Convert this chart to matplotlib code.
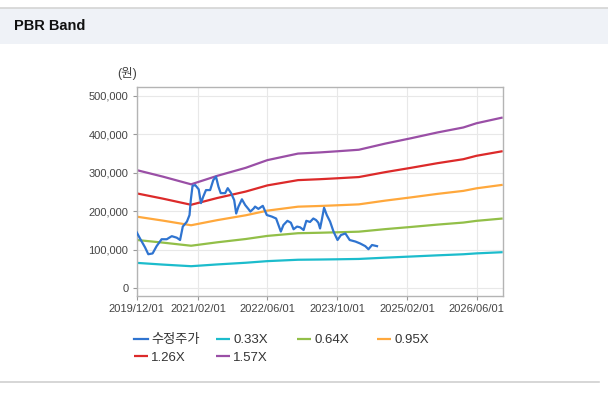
import pandas as pd
import matplotlib
matplotlib.use("Agg")
import matplotlib.pyplot as plt
import matplotlib.dates as mdates
from matplotlib.patches import Rectangle
from matplotlib.lines import Line2D
from matplotlib.ticker import FuncFormatter

plt.rcParams["font.family"] = ["Liberation Sans", "Noto Sans CJK KR", "DejaVu Sans"]

# 수정주가 (원)
price_dates = [
    "2019-12-01", "2019-12-24", "2020-01-28", "2020-02-20", "2020-03-21", "2020-04-18",
    "2020-05-23", "2020-06-28", "2020-08-02", "2020-09-06", "2020-09-29", "2020-10-18",
    "2020-11-16", "2020-12-04", "2020-12-13", "2020-12-25", "2021-01-13", "2021-02-06",
    "2021-02-22", "2021-03-10", "2021-03-29", "2021-04-27", "2021-05-19", "2021-06-07",
    "2021-06-24", "2021-07-10", "2021-08-10", "2021-08-28", "2021-09-19", "2021-10-12",
    "2021-10-26", "2021-11-11", "2021-12-05", "2021-12-28", "2022-01-21", "2022-02-02",
    "2022-02-25", "2022-03-07", "2022-03-30", "2022-04-30", "2022-05-28", "2022-07-02",
    "2022-08-01", "2022-09-03", "2022-09-21", "2022-10-19", "2022-11-12", "2022-12-01",
    "2022-12-25", "2023-01-16", "2023-02-09", "2023-02-28", "2023-03-26", "2023-04-18",
    "2023-05-07", "2023-05-23", "2023-06-04", "2023-06-16", "2023-07-02", "2023-07-21",
    "2023-08-13", "2023-09-06", "2023-10-04", "2023-10-28", "2023-11-28", "2023-12-28",
    "2024-02-06", "2024-03-10", "2024-04-15", "2024-05-07", "2024-06-01", "2024-07-06",
]
price = [
    145000, 129000, 106000, 88000, 90000, 109000,
    127000, 127000, 135000, 131000, 125000, 160000,
    173000, 190000, 229000, 266000, 268000, 257000,
    221000, 238000, 255000, 255000, 281000, 290000,
    264000, 247000, 247000, 260000, 248000, 229000,
    194000, 212000, 231000, 216000, 205000, 199000,
    207000, 212000, 206000, 214000, 190000, 186000,
    181000, 147000, 164000, 175000, 170000, 153000,
    160000, 158000, 151000, 175000, 172000, 181000,
    177000, 170000, 155000, 177000, 209000, 190000,
    173000, 147000, 125000, 138000, 142000, 125000,
    121000, 116000, 109000, 101000, 112000, 109000,
]

# PBR 밴드
band_dates = [
    "2019-12-01", "2020-06-01", "2020-12-15", "2021-06-15", "2022-01-01", "2022-06-01",
    "2023-01-01", "2023-06-01", "2023-10-01", "2024-03-01", "2024-09-01", "2025-03-01",
    "2025-09-01", "2026-03-01", "2026-06-01", "2026-12-01",
]
band_033 = [65500, 61000, 56800, 61400, 65800, 70000, 73600, 74200, 74800, 75700, 79000, 82000, 85100, 87900, 90200, 93300]
band_064 = [125100, 118200, 110100, 119000, 127600, 135700, 142700, 143900, 145100, 146700, 153300, 159000, 165100, 170400, 174900, 181000]
band_095 = [185800, 175500, 163400, 176700, 189400, 201500, 211800, 213600, 215400, 217800, 227500, 236000, 245100, 252900, 259600, 268700]
band_126 = [246400, 232700, 216700, 234300, 251200, 267200, 280900, 283300, 285700, 288900, 301700, 313000, 325000, 335400, 344300, 356300]
band_157 = [307000, 290000, 270000, 292000, 313000, 333000, 350000, 353000, 356000, 360000, 376000, 390000, 405000, 418000, 429000, 444000]

tick_dates = ["2019-12-01", "2021-02-01", "2022-06-01", "2023-10-01", "2025-02-01", "2026-06-01"]

fig = plt.figure(figsize=(6.08, 3.93), dpi=100)
W, H = 608, 393

# header bar
fig.patches.append(Rectangle((0, 1 - 44 / H), 1, 36 / H, transform=fig.transFigure,
                             facecolor="#eff2f7", edgecolor="none", zorder=0))
fig.lines.append(Line2D([0, 1], [1 - 8 / H, 1 - 8 / H], transform=fig.transFigure,
                        color="#d4d4d4", lw=1.2))
fig.lines.append(Line2D([0, 0.985], [1 - 382 / H, 1 - 382 / H], transform=fig.transFigure,
                        color="#d0d0d0", lw=1.2))
fig.text(14 / W, 1 - 26 / H, "PBR Band", fontsize=10.5, fontweight="bold",
         color="#111111", va="center", ha="left")

ax = fig.add_axes([136.7 / W, 1 - 295.7 / H, 366 / W, 208.4 / H])

pd_band = pd.to_datetime(band_dates)
series = [
    ("0.33X", band_033, "#1cbccc"),
    ("0.64X", band_064, "#92bf48"),
    ("0.95X", band_095, "#ffa83c"),
    ("1.26X", band_126, "#dc2a2a"),
    ("1.57X", band_157, "#9a4fa6"),
]
handles = {}
for name, vals, col in series:
    (h,) = ax.plot(pd_band, vals, color=col, lw=1.6, solid_capstyle="butt")
    handles[name] = h
(hp,) = ax.plot(pd.to_datetime(price_dates), price, color="#2f74d0", lw=1.6, zorder=5)
handles["수정주가"] = hp

ax.set_xlim(pd.Timestamp("2019-12-01"), pd.Timestamp("2026-12-01"))
ax.set_ylim(-20000, 522600)
ax.set_yticks([0, 100000, 200000, 300000, 400000, 500000])
ax.yaxis.set_major_formatter(FuncFormatter(lambda v, p: f"{int(v):,}"))
ax.set_xticks(pd.to_datetime(tick_dates))
ax.xaxis.set_major_formatter(mdates.DateFormatter("%Y/%m/%d"))

ax.grid(True, color="#e8e8e8", lw=0.8)
ax.set_axisbelow(True)
for s in ax.spines.values():
    s.set_color("#b4b4b4")
    s.set_linewidth(1.0)
ax.tick_params(axis="both", length=3, color="#999999", labelcolor="#444444", labelsize=8, pad=3)

fig.text(127 / W, 1 - 74 / H, "(원)", fontsize=9, color="#444444", ha="center", va="center")

# legend, two rows
legend_pos = [
    ("수정주가", 134, 340), ("0.33X", 216, 340), ("0.64X", 297, 340), ("0.95X", 377, 340),
    ("1.26X", 134, 357.5), ("1.57X", 216, 357.5),
]
for name, x, y in legend_pos:
    fig.legend(handles=[handles[name]], labels=[name], loc="center left",
               bbox_to_anchor=(x / W, 1 - y / H), frameon=False, fontsize=9.5,
               handlelength=1.05, handletextpad=0.25, borderpad=0, borderaxespad=0,
               labelcolor="#333333")

fig.savefig("out.png", dpi=100)
